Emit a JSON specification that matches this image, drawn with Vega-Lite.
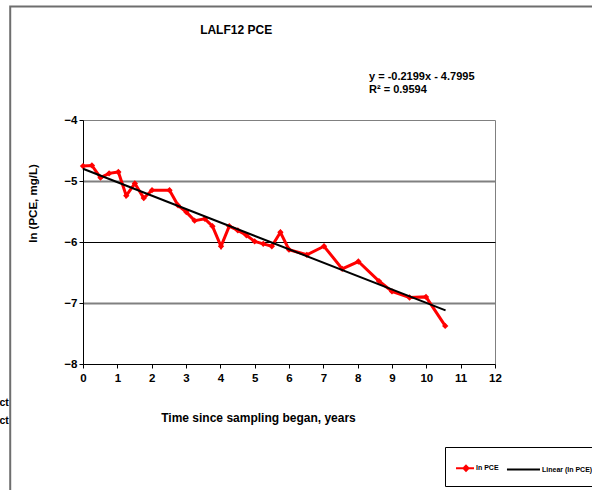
{
  "$schema": "https://vega.github.io/schema/vega-lite/v6.json",
  "autosize": {"type": "none"},
  "width": 412,
  "height": 244,
  "padding": {"left": 83, "top": 120, "right": 97, "bottom": 126},
  "background": "white",
  "config": {
    "font": "Liberation Sans",
    "view": {"stroke": "#808080", "strokeWidth": 1},
    "axis": {"labelFont": "Liberation Sans", "titleFont": "Liberation Sans", "labelFontWeight": "bold", "titleFontWeight": "bold", "labelFontSize": 11.5, "titleFontSize": 11.5, "labelColor": "#000", "titleColor": "#000", "domainColor": "#000", "domainWidth": 1, "tickColor": "#000", "tickSize": 4, "labelFlush": false, "format": "d"},
    "axisX": {
      "tickCount": 12,
      "grid": false,
      "labelPadding": 4,
      "titleFontSize": 12,
      "titleX": 175, "titleY": 53, "titleAlign": "center", "titleBaseline": "middle"
    },
    "axisY": {
      "tickCount": 4,
      "grid": true,
      "gridColor": {"condition": {"test": "datum.value === -6", "value": "#000000"}, "value": "#808080"},
      "gridWidth": {"condition": {"test": "datum.value === -6", "value": 1}, "value": 2},
      "gridOpacity": {"condition": {"test": "datum.value === -4 || datum.value === -8", "value": 0}, "value": 1},
      "labelPadding": 2,
      "titleX": -50, "titleY": 83, "titleAlign": "center", "titleBaseline": "middle", "titleAngle": 270
    }
  },
  "datasets": {
    "pce": [
      {"t": 0.0, "v": -4.755, "series": "ln PCE"},
      {"t": 0.26, "v": -4.745, "series": "ln PCE"},
      {"t": 0.51, "v": -4.946, "series": "ln PCE"},
      {"t": 0.76, "v": -4.875, "series": "ln PCE"},
      {"t": 1.03, "v": -4.853, "series": "ln PCE"},
      {"t": 1.26, "v": -5.24, "series": "ln PCE"},
      {"t": 1.51, "v": -5.04, "series": "ln PCE"},
      {"t": 1.77, "v": -5.28, "series": "ln PCE"},
      {"t": 2.01, "v": -5.15, "series": "ln PCE"},
      {"t": 2.52, "v": -5.15, "series": "ln PCE"},
      {"t": 2.77, "v": -5.40, "series": "ln PCE"},
      {"t": 3.01, "v": -5.51, "series": "ln PCE"},
      {"t": 3.25, "v": -5.65, "series": "ln PCE"},
      {"t": 3.55, "v": -5.62, "series": "ln PCE"},
      {"t": 3.77, "v": -5.74, "series": "ln PCE"},
      {"t": 4.02, "v": -6.07, "series": "ln PCE"},
      {"t": 4.26, "v": -5.74, "series": "ln PCE"},
      {"t": 4.51, "v": -5.81, "series": "ln PCE"},
      {"t": 4.76, "v": -5.89, "series": "ln PCE"},
      {"t": 5.0, "v": -5.99, "series": "ln PCE"},
      {"t": 5.25, "v": -6.03, "series": "ln PCE"},
      {"t": 5.50, "v": -6.07, "series": "ln PCE"},
      {"t": 5.75, "v": -5.84, "series": "ln PCE"},
      {"t": 6.0, "v": -6.125, "series": "ln PCE"},
      {"t": 6.52, "v": -6.21, "series": "ln PCE"},
      {"t": 7.02, "v": -6.07, "series": "ln PCE"},
      {"t": 7.55, "v": -6.44, "series": "ln PCE"},
      {"t": 8.02, "v": -6.32, "series": "ln PCE"},
      {"t": 8.62, "v": -6.64, "series": "ln PCE"},
      {"t": 9.0, "v": -6.81, "series": "ln PCE"},
      {"t": 9.51, "v": -6.91, "series": "ln PCE"},
      {"t": 9.99, "v": -6.90, "series": "ln PCE"},
      {"t": 10.55, "v": -7.375, "series": "ln PCE"}
    ],
    "trend": [
      {"t": 0.0, "v": -4.7995, "series": "Linear (ln PCE)"},
      {"t": 10.56, "v": -7.1216, "series": "Linear (ln PCE)"}
    ],
    "notes": [
      {"label": "note"}
    ]
  },
  "layer": [
    {
      "data": {"name": "pce"},
      "mark": {"type": "line", "strokeWidth": 3, "point": {"filled": true, "shape": "diamond", "size": 40}},
      "encoding": {
        "x": {
          "field": "t", "type": "quantitative",
          "scale": {"domain": [0, 12], "nice": false, "zero": false},
          "title": "Time since sampling began, years"
        },
        "y": {
          "field": "v", "type": "quantitative",
          "scale": {"domain": [-8, -4], "nice": false, "zero": false},
          "title": "ln (PCE, mg/L)"
        },
        "color": {
          "field": "series", "type": "nominal",
          "scale": {"domain": ["ln PCE", "Linear (ln PCE)"], "range": ["#ff0000", "#000000"]},
          "legend": {
            "title": null,
            "orient": "none",
            "direction": "horizontal",
            "legendX": 362,
            "legendY": 327,
            "padding": 11,
            "strokeColor": "#000",
            "fillColor": "#fff",
            "symbolSize": 324,
            "symbolStrokeWidth": 2,
            "labelFont": "Liberation Sans",
            "labelFontSize": 7,
            "labelFontWeight": "bold",
            "labelColor": "#000",
            "labelOffset": 0,
            "columnPadding": 3,
            "encode": {
              "symbols": {
                "update": {
                  "shape": {"signal": "datum.value === 'ln PCE' ? 'M-1.11,0L0.89,0M0,-0.28L0.28,0L0,0.28L-0.28,0Z' : 'M-0.56,0L3.11,0'"},
                  "fill": {"signal": "datum.value === 'ln PCE' ? '#ff0000' : 'transparent'"},
                  "stroke": {"signal": "datum.value === 'ln PCE' ? '#ff0000' : '#000000'"},
                  "opacity": {"value": 1}
                }
              },
              "labels": {
                "update": {
                  "dx": {"signal": "datum.value === 'ln PCE' ? 0 : 20"}
                }
              }
            }
          }
        }
      }
    },
    {
      "data": {"name": "trend"},
      "mark": {"type": "line", "strokeWidth": 2},
      "encoding": {
        "x": {"field": "t", "type": "quantitative", "title": "Time since sampling began, years"},
        "y": {"field": "v", "type": "quantitative", "title": "ln (PCE, mg/L)"},
        "color": {"field": "series", "type": "nominal"}
      }
    },
    {
      "data": {"name": "notes"},
      "mark": {"type": "rect", "filled": false, "fill": "transparent", "stroke": "#6e6e6e", "strokeWidth": 2, "clip": false},
      "encoding": {
        "x": {"datum": -2.12, "type": "quantitative", "title": "Time since sampling began, years"},
        "x2": {"datum": 15},
        "y": {"datum": -2.14, "type": "quantitative", "title": "ln (PCE, mg/L)"},
        "y2": {"datum": -10.5}
      }
    },
    {
      "data": {"name": "notes"},
      "mark": {"type": "text", "text": "LALF12 PCE", "align": "center", "baseline": "middle", "font": "Liberation Sans", "fontSize": 12, "fontWeight": "bold", "color": "#000", "clip": false},
      "encoding": {
        "x": {"datum": 4.46, "type": "quantitative", "title": "Time since sampling began, years"},
        "y": {"datum": -2.53, "type": "quantitative", "title": "ln (PCE, mg/L)"}
      }
    },
    {
      "data": {"name": "notes"},
      "mark": {"type": "text", "text": ["y = -0.2199x - 4.7995", "R² = 0.9594"], "align": "left", "baseline": "top", "lineHeight": 13, "font": "Liberation Sans", "fontSize": 11, "fontWeight": "bold", "color": "#000", "clip": false},
      "encoding": {
        "x": {"datum": 8.33, "type": "quantitative", "title": "Time since sampling began, years"},
        "y": {"datum": -3.19, "type": "quantitative", "title": "ln (PCE, mg/L)"}
      }
    },
    {
      "data": {"name": "notes"},
      "mark": {"type": "text", "text": ["ct", "ct"], "align": "right", "baseline": "top", "lineHeight": 18, "font": "Liberation Sans", "fontSize": 10.5, "fontWeight": "bold", "color": "#000", "clip": false},
      "encoding": {
        "x": {"datum": -2.16, "type": "quantitative", "title": "Time since sampling began, years"},
        "y": {"datum": -8.56, "type": "quantitative", "title": "ln (PCE, mg/L)"}
      }
    }
  ]
}
